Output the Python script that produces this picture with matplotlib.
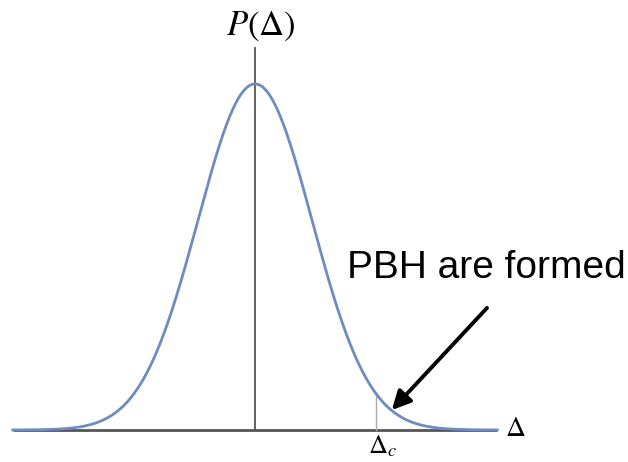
import numpy as np
import matplotlib
matplotlib.use("Agg")
import matplotlib.pyplot as plt

plt.rcParams["mathtext.fontset"] = "stix"

# Gaussian distribution of the density contrast
delta = np.linspace(-4.25, 4.25, 600)
prob = np.exp(-delta**2 / 2) / np.sqrt(2 * np.pi)
delta_c = 2.12
x_range = (-4.25, 4.25)

fig = plt.figure(figsize=(6.28, 4.62), dpi=100)
ax = fig.add_axes([0, 0, 1, 1])
ax.set_xlim(-4.474, 6.544)
ax.set_ylim(-0.0369, 0.4957)
ax.axis("off")

# axes
ax.plot(x_range, [0, 0], color="#555555", lw=2.0, solid_capstyle="butt", zorder=1)
ax.plot([0, 0], [0, 0.4404], color="#555555", lw=1.3, zorder=1)

# critical threshold
pc = np.exp(-delta_c**2 / 2) / np.sqrt(2 * np.pi)
ax.plot([delta_c, delta_c], [0, pc], color="#aaaaaa", lw=1.0, zorder=1)

# distribution
ax.plot(delta, prob, color="#6f8bbf", lw=2.0, zorder=2)

# labels
ax.text(0.105, 0.466, r"$P(\Delta)$", fontsize=25, ha="center", va="center")
ax.text(4.386, 0.0023, r"$\Delta$", fontsize=20, ha="left", va="center")
ax.text(1.98, -0.0272, r"$\Delta_c$", fontsize=19, ha="left", va="baseline")

ax.annotate("", xy=(2.40, 0.023), xytext=(4.07, 0.1407),
            arrowprops=dict(arrowstyle="-|>", color="black", lw=2.8,
                            mutation_scale=28, shrinkA=0, shrinkB=0))
ax.text(1.614, 0.175, "PBH are formed", fontsize=28, family="Liberation Sans",
        ha="left", va="baseline")

fig.savefig("out.png", dpi=100)
